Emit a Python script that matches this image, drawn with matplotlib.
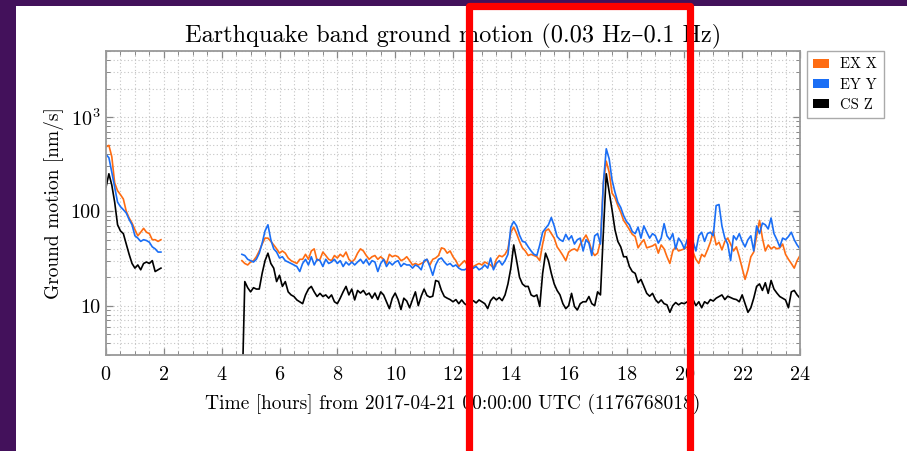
import numpy as np
import matplotlib
matplotlib.use("Agg")
import matplotlib.pyplot as plt
from matplotlib.patches import Rectangle, Patch
from matplotlib.ticker import FixedLocator, FixedFormatter, MultipleLocator, LogLocator, NullFormatter

plt.rcParams['font.family'] = ['cmr10', 'DejaVu Serif']
plt.rcParams['mathtext.fontset'] = 'cm'
plt.rcParams['axes.formatter.use_mathtext'] = True

# ---------------- data ----------------
series_labels = ["EX X", "EY Y", "CS Z"]
series_colors = ["#fe6c12", "#1a6ef5", "#000000"]

seg1_start = 0.0
seg2_start = 4.7
step_hours = 0.1

exx_seg1 = [480, 500, 380, 200, 165, 150, 135, 100, 85, 75, 64, 55, 60, 66, 60, 58, 50, 50, 48, 50]
eyy_seg1 = [400, 370, 260, 180, 125, 112, 104, 96, 82, 72, 55, 52, 48, 50, 49, 47, 42, 40, 37, 37]
csz_seg1 = [180, 250, 190, 125, 72, 62, 58, 45, 35, 28, 25, 27, 24, 28, 29, 28, 30, 23, 24, 25]

exx_seg2 = [30, 28, 27, 29, 30, 33, 38, 45, 52, 52, 48, 44, 40, 36, 38, 36, 32, 30, 29, 28,
            31, 31, 35, 31, 38, 40, 30, 31, 37, 34, 31, 30, 34, 32, 35, 33, 37, 31,
            29, 31, 36, 40, 38, 34, 31, 33, 34, 31, 33, 31, 28, 35, 33, 34, 33, 30, 31, 33,
            30, 27, 28, 27, 28, 29, 31, 27, 31, 32, 34, 41, 40, 36, 38, 33, 30, 26, 28, 30, 27,
            25, 26, 27, 28, 27, 29, 28, 27, 25, 31, 34, 33, 35, 40, 60, 68, 58, 48, 41, 38,
            34, 35, 34, 33, 30, 45, 62, 65, 58, 52, 42, 38, 34, 30, 37, 39, 40, 38, 45, 50,
            56, 48, 38, 34, 36, 48, 200, 340, 260, 156, 140, 115, 98, 80, 72, 64, 57, 54, 41, 46,
            50, 41, 42, 43, 45, 36, 44, 40, 33, 28, 38, 42, 38, 39, 40,
            42, 39, 37, 31, 28, 35, 33, 39, 47, 62, 44, 47, 39, 48, 52, 45, 38, 42, 33, 25,
            19, 24, 33, 37, 55, 80, 52, 38, 44, 40, 42, 40, 41, 45, 35, 31, 28, 25, 30, 34]
eyy_seg2 = [35, 34, 31, 30, 29, 31, 36, 46, 62, 72, 50, 40, 37, 32, 33, 30, 29, 28, 27, 26,
            23, 28, 31, 27, 33, 27, 31, 30, 26, 31, 28, 29, 31, 28, 30, 26, 29, 27,
            29, 27, 29, 31, 28, 31, 27, 30, 29, 23, 28, 31, 26, 29, 27, 29, 30, 26, 28, 27,
            27, 25, 27, 26, 24, 30, 31, 26, 21, 27, 31, 32, 29, 27, 28, 26, 27, 25, 24, 24, 25,
            24, 25, 26, 24, 25, 27, 25, 32, 24, 28, 30, 27, 30, 35, 68, 78, 70, 56, 48, 47,
            42, 38, 35, 34, 44, 60, 66, 72, 86, 70, 54, 50, 48, 57, 50, 55, 45, 50, 52, 38,
            50, 46, 34, 55, 58, 45, 200, 460, 360, 215, 160, 125, 110, 90, 78, 72, 61, 58, 68, 52,
            70, 60, 52, 58, 55, 46, 52, 74, 55, 50, 58, 40, 52, 47, 40,
            50, 58, 48, 38, 55, 60, 48, 58, 60, 55, 115, 118, 70, 52, 45, 30, 55, 50, 58, 48,
            42, 50, 55, 38, 70, 58, 75, 72, 65, 85, 58, 50, 42, 52, 50, 54, 60, 50, 44, 40]
csz_seg2 = [1, 18, 15.5, 14, 15.5, 15, 15, 22, 30, 36, 28, 25, 18, 21, 16, 18, 14, 13, 12.5, 11.5,
            11, 10.5, 13, 15, 16, 14, 12.5, 13.5, 12.5, 13, 12, 13, 11, 10.5, 12, 14, 16, 13,
            15, 11.5, 14.5, 13.6, 14.5, 13, 13.6, 12, 13.6, 11.6, 14, 13, 11, 9.3, 12, 13.6, 11.6, 9.1, 12, 11.2,
            9.5, 11.6, 14, 10, 12.6, 15, 12.8, 12.3, 12.6, 18.5, 18, 14.5, 12.5, 12, 11.6, 11, 11.6, 10.5, 11.5, 10.5, 10,
            11, 11.3, 10.7, 11.5, 11, 10.5, 9.3, 11.3, 12.3, 11.5, 12.2, 11.3, 13, 17, 25, 44, 30, 20, 17, 16,
            16, 13, 12.5, 13, 9.8, 22, 36, 30, 22, 17, 14.5, 13, 10.5, 9.3, 10, 13.5, 9.8, 9, 10.5, 11,
            11, 12.5, 10.5, 10, 14, 13, 60, 250, 160, 104, 64, 48, 42, 33, 33, 26, 23, 22, 17.5, 19,
            16, 13.5, 12.6, 13.5, 11.6, 10.7, 11.5, 10.5, 10.2, 8.5, 10, 10.8, 10.2, 10.7, 10.5,
            11, 10.5, 11.6, 10, 11, 9.5, 11, 10.5, 11.6, 11.2, 12, 12.5, 13, 11.6, 12.6, 12.2, 11.8, 11.6, 11, 13,
            10.5, 8.5, 9.5, 12, 16, 17, 14.5, 17.5, 13.5, 18.5, 15, 13.6, 12.5, 12, 11.5, 9.5, 14, 14.5, 13, 12]

x_ticks = [0, 2, 4, 6, 8, 10, 12, 14, 16, 18, 20, 22, 24]
y_ticks = [10, 100, 1000]
y_tick_labels = ["10", "100", r"$10^3$"]

title_text = "Earthquake band ground motion (0.03 Hz\u20130.1 Hz)"
xlabel_text = "Time [hours] from 2017-04-21 00:00:00 UTC (1176768018)"
ylabel_text = "Ground motion [nm/s]"

# ---------------- figure ----------------
W, H = 907, 451
fig = plt.figure(figsize=(W / 100, H / 100), dpi=100)
fig.patch.set_facecolor("#43115b")
# white slide area
fig.add_artist(Rectangle((16 / W, 0), 1 - 16 / W, (H - 6) / H, transform=fig.transFigure,
                         facecolor="white", edgecolor="none", zorder=-10))

ax = fig.add_axes([106 / W, 96 / H, 694 / W, 304 / H])

segments = [(seg1_start, [exx_seg1, eyy_seg1, csz_seg1]),
            (seg2_start, [exx_seg2, eyy_seg2, csz_seg2])]
for start, vals in segments:
    for v, c in zip(vals, series_colors):
        t = start + step_hours * np.arange(len(v))
        ax.plot(t, v, color=c, lw=1.2, solid_joinstyle="round")

ax.set_yscale("log")
ax.set_xlim(0, 24)
ax.set_ylim(3, 5000)

ax.xaxis.set_major_locator(FixedLocator(x_ticks))
ax.xaxis.set_minor_locator(MultipleLocator(0.5))
ax.yaxis.set_major_locator(FixedLocator(y_ticks))
ax.yaxis.set_major_formatter(FixedFormatter(y_tick_labels))
ax.yaxis.set_minor_locator(LogLocator(base=10, subs=np.arange(2, 10)))
ax.yaxis.set_minor_formatter(NullFormatter())

ax.tick_params(which="both", direction="in", top=True, right=True, color="#888888")
ax.tick_params(which="major", length=5, width=0.9, labelsize=14.5)
ax.tick_params(which="minor", length=2.8, width=0.7)
ax.tick_params(axis="x", which="major", pad=8)
ax.tick_params(axis="y", which="major", pad=4)

for s in ax.spines.values():
    s.set_color("#999999")
    s.set_linewidth(1.3)

ax.grid(True, which="both", color="#c4c4c4", linestyle=(0, (1, 2.2)), linewidth=0.8)
ax.set_axisbelow(True)

ax.set_title(title_text, fontsize=17.5, pad=6.5)
ax.set_xlabel(xlabel_text, fontsize=14)
ax.set_ylabel(ylabel_text, fontsize=14)
ax.xaxis.set_label_coords(0.5, -0.128)
ax.yaxis.set_label_coords(-0.061, 0.5)

handles = [Patch(facecolor=c, edgecolor="none", label=l) for c, l in zip(series_colors, series_labels)]
leg = ax.legend(handles=handles, loc="upper left", bbox_to_anchor=(1.0097, 1.0), borderaxespad=0,
                fontsize=10.5, handlelength=1.05, handleheight=0.55, handletextpad=0.8,
                labelspacing=0.45, fancybox=False, framealpha=1, borderpad=0.45)
leg.get_frame().set_edgecolor("#aaaaaa")
leg.get_frame().set_linewidth(1.0)

# red highlight box
fig.add_artist(Rectangle((469 / W, -20 / H), 220.5 / W, (H - 6.3 + 20) / H, transform=fig.transFigure,
                         facecolor="none", edgecolor="#ff0000", linewidth=5.2, joinstyle="round",
                         zorder=20))

fig.savefig("out.png", dpi=100, facecolor=fig.get_facecolor())
